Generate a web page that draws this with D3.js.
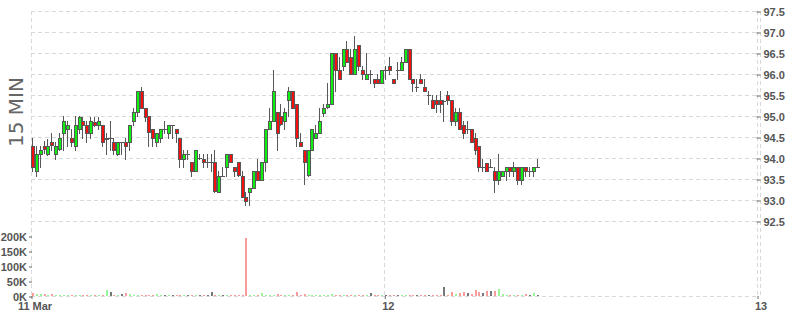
<!DOCTYPE html>
<html>
<head>
<meta charset="utf-8">
<script src="https://cdn.jsdelivr.net/npm/d3@7"></script>
<style>
    body { margin: 0; background: #fff; }
    svg { display: block; font-family: "Liberation Sans", Arial, sans-serif; }
    .grid line { stroke: #d9d9d9; stroke-dasharray: 4, 3; }
    .axis path { display: none; }
    .axis line { stroke: #666; }
    .axis text { fill: #555; font-size: 11px; font-weight: bold; }
</style>
</head>
<body>
<div id="chart-container"></div>
<script>
// 15 minute bars, first bar opens at startTime
const startTime = '2024-03-11T01:15:00'
const intervalMinutes = 15

const opens = [
    94.28, 93.69, 94.09, 94.28, 94.09, 94.37, 94.09, 94.20, 94.60, 94.69,
    94.47, 94.29, 94.69, 94.88, 94.79, 94.60, 94.86, 94.79, 94.79, 94.45,
    94.48, 94.39, 94.10, 94.39, 94.39, 94.39, 94.88, 95.09, 95.60, 95.20,
    94.99, 94.69, 94.39, 94.48, 94.69, 94.60, 94.79, 94.69, 94.48, 93.98,
    94.09, 93.90, 93.69, 94.00, 93.98, 93.90, 93.90, 93.90, 93.20, 93.58,
    93.78, 94.09, 93.79, 93.90, 93.58, 93.07, 93.18, 93.28, 93.69, 93.48,
    93.90, 94.69, 94.88, 95.09, 94.99, 94.88, 95.39, 95.60, 95.28, 94.39,
    94.18, 93.58, 94.18, 94.48, 94.60, 95.09, 95.20, 95.28, 96.50, 96.10,
    96.20, 96.60, 96.40, 96.00, 96.69, 96.10, 95.88, 96.00, 95.88, 95.88,
    95.79, 96.10, 96.20, 95.88, 96.10, 96.10, 96.29, 96.60, 95.88, 95.69,
    95.88, 95.69, 95.50, 95.39, 95.39, 95.39, 95.35, 95.50, 95.39, 94.88,
    95.09, 94.79, 94.69, 94.69, 94.48, 94.28, 93.79, 93.88, 93.79, 93.69,
    93.48, 93.58, 93.69, 93.79, 93.69, 93.79, 93.48, 93.79, 93.69, 93.69,
    93.79
]
const highs = [
    94.47, 94.29, 94.29, 94.41, 94.45, 94.60, 94.39, 94.60, 94.99, 94.88,
    94.69, 94.99, 94.99, 94.98, 94.88, 94.98, 94.98, 94.98, 94.79, 94.60,
    94.88, 94.48, 94.39, 94.39, 94.48, 94.79, 95.18, 95.60, 95.69, 95.20,
    94.99, 94.69, 94.60, 94.69, 94.88, 94.79, 94.79, 94.69, 94.48, 94.18,
    94.18, 93.90, 94.18, 94.09, 94.09, 94.09, 94.09, 94.18, 93.69, 93.79,
    94.09, 94.09, 93.79, 93.90, 93.69, 93.18, 93.28, 93.69, 93.98, 93.90,
    94.69, 95.20, 96.10, 95.09, 95.28, 95.20, 95.69, 95.60, 95.28, 94.60,
    94.18, 94.20, 94.69, 94.79, 95.20, 95.28, 95.79, 96.50, 96.50, 96.40,
    96.60, 96.79, 96.60, 96.91, 96.69, 96.20, 96.50, 96.10, 95.88, 96.00,
    96.10, 96.20, 96.40, 95.88, 96.29, 96.40, 96.60, 96.60, 95.88, 95.88,
    96.00, 95.88, 95.60, 95.50, 95.50, 95.60, 95.39, 95.60, 95.39, 95.20,
    95.20, 94.88, 94.88, 94.69, 94.60, 94.28, 93.98, 93.88, 93.98, 93.79,
    94.09, 93.69, 93.79, 93.79, 93.90, 93.79, 93.79, 93.79, 93.79, 93.79,
    93.98
]
const lows = [
    93.69, 93.56, 93.78, 94.13, 94.06, 94.20, 93.98, 94.20, 94.20, 94.29,
    94.29, 94.20, 94.60, 94.48, 94.37, 94.48, 94.77, 94.69, 94.29, 94.10,
    94.20, 94.10, 94.08, 94.10, 93.98, 94.20, 94.79, 95.01, 95.20, 94.88,
    94.29, 94.29, 94.29, 94.39, 94.60, 94.48, 94.48, 94.39, 93.79, 93.79,
    93.98, 93.56, 93.69, 93.98, 93.79, 93.79, 93.69, 93.20, 93.20, 93.58,
    93.58, 93.90, 93.58, 93.58, 93.07, 92.88, 92.88, 93.28, 93.48, 93.48,
    93.69, 94.69, 94.88, 94.20, 94.79, 94.69, 94.99, 95.20, 94.29, 94.29,
    93.39, 93.58, 94.18, 94.48, 94.60, 94.99, 95.20, 95.28, 95.60, 95.88,
    96.10, 96.29, 96.00, 96.00, 96.10, 95.88, 95.88, 95.79, 95.69, 95.79,
    95.79, 95.88, 96.00, 95.79, 95.88, 96.10, 96.29, 95.88, 95.60, 95.60,
    95.79, 95.60, 95.28, 95.20, 95.09, 95.09, 94.88, 95.29, 94.79, 94.79,
    94.69, 94.48, 94.60, 94.39, 94.09, 93.69, 93.69, 93.69, 93.79, 93.20,
    93.39, 93.58, 93.48, 93.58, 93.58, 93.39, 93.39, 93.58, 93.58, 93.58,
    93.79
]
const closes = [
    93.79, 94.09, 94.18, 94.20, 94.28, 94.29, 94.29, 94.47, 94.88, 94.79,
    94.37, 94.79, 94.98, 94.79, 94.60, 94.88, 94.79, 94.88, 94.39, 94.48,
    94.48, 94.20, 94.39, 94.39, 94.29, 94.79, 95.09, 95.60, 95.20, 94.99,
    94.60, 94.48, 94.60, 94.69, 94.69, 94.79, 94.79, 94.60, 93.98, 94.09,
    94.09, 93.69, 94.18, 94.00, 93.90, 93.90, 93.90, 93.20, 93.58, 93.58,
    94.09, 93.90, 93.69, 93.58, 93.07, 92.98, 93.28, 93.69, 93.48, 93.90,
    94.69, 94.88, 95.60, 94.60, 94.79, 95.09, 95.60, 95.20, 94.48, 94.29,
    93.90, 94.18, 94.69, 94.60, 94.88, 95.20, 95.28, 96.50, 96.10, 95.88,
    96.60, 96.29, 96.00, 96.60, 96.20, 96.00, 96.00, 96.00, 95.79, 95.79,
    96.10, 96.10, 96.10, 95.79, 96.10, 96.29, 96.60, 95.88, 95.79, 95.69,
    95.79, 95.60, 95.50, 95.20, 95.29, 95.29, 95.35, 95.39, 94.88, 95.09,
    94.69, 94.60, 94.69, 94.39, 94.20, 93.79, 93.79, 93.69, 93.79, 93.48,
    93.69, 93.69, 93.79, 93.69, 93.79, 93.48, 93.79, 93.69, 93.69, 93.79,
    93.79
]
// volume in thousands
const volumes = [
    11, 6, 5, 5, 4, 5, 3, 2, 2, 3,
    2, 3, 2, 3, 2, 3, 3, 2, 4, 20,
    13, 4, 4, 5, 11, 7, 4, 3, 3, 4,
    3, 4, 6, 3, 4, 3, 2, 3, 4, 3,
    3, 3, 4, 2, 3, 3, 13, 4, 3, 3,
    2, 3, 3, 4, 3, 193, 3, 3, 3, 10,
    4, 3, 4, 5, 3, 4, 3, 4, 13, 4,
    5, 3, 4, 2, 4, 3, 4, 5, 3, 4,
    3, 4, 3, 3, 4, 3, 3, 10, 3, 2,
    3, 4, 3, 3, 2, 3, 4, 3, 3, 2,
    3, 2, 3, 2, 3, 4, 30, 2, 13, 7,
    10, 13, 10, 7, 20, 13, 10, 17, 17, 17,
    23, 7, 3, 2, 2, 2, 3, 5, 2, 10,
    3
]

const xTickDates = ['2024-03-11T01:15:00', '2024-03-12T00:00:00', '2024-03-13T00:00:00']
const xTickLabels = ['11 Mar', '12', '13']
const priceTicks = [92.5, 93.0, 93.5, 94.0, 94.5, 95.0, 95.5, 96.0, 96.5, 97.0, 97.5]
const volumeTicks = [0, 50, 100, 150, 200]
const intervalLabel = '15 MIN'

class CandlePlotter {
    constructor(options) {
        this.width = options.width
        this.height = options.height
        this.left = 31
        this.right = 757
        this.priceTop = 11
        this.priceBottom = 221
        this.volTop = 236
        this.volBottom = 296

        const t0 = new Date(startTime)
        const step = intervalMinutes * 60000
        this.bars = opens.map((o, i) => ({
            time: new Date(t0.getTime() + i * step + step / 2),
            open: o, high: highs[i], low: lows[i], close: closes[i], volume: volumes[i]
        }))

        this.xScale = d3.scaleTime()
            .domain([new Date(xTickDates[0]), new Date(xTickDates[2])])
            .range([this.left, this.right])
        this.yScale = d3.scaleLinear()
            .domain([92.5, 97.5])
            .range([this.priceBottom, this.priceTop])
        this.vScale = d3.scaleLinear()
            .domain([0, 200])
            .range([this.volBottom, this.volTop])

        this.svg = d3.select('#chart-container')
            .append('svg')
            .attr('width', this.width)
            .attr('height', this.height)
    }

    plot() {
        this.#createGrid()
        this.#createAxes()
        this.#plotVolume()
        this.#plotCandles()
        this.#createLabel()
    }

    #px(v) {
        return Math.round(v) + 0.5
    }

    #createGrid() {
        const grid = this.svg.append('g').attr('class', 'grid')
        grid.selectAll('.hline')
            .data(priceTicks)
            .enter()
            .append('line')
            .attr('x1', this.left)
            .attr('x2', this.right)
            .attr('y1', d => this.#px(this.yScale(d)))
            .attr('y2', d => this.#px(this.yScale(d)))
        grid.append('line')
            .attr('x1', this.left)
            .attr('x2', this.right)
            .attr('y1', this.#px(this.volBottom))
            .attr('y2', this.#px(this.volBottom))
        grid.selectAll('.vline')
            .data(xTickDates)
            .enter()
            .append('line')
            .attr('x1', d => this.#px(this.xScale(new Date(d))))
            .attr('x2', d => this.#px(this.xScale(new Date(d))))
            .attr('y1', this.priceTop)
            .attr('y2', this.volBottom)
        grid.append('line')
            .attr('x1', this.right + 3.5)
            .attr('x2', this.right + 3.5)
            .attr('y1', this.priceTop)
            .attr('y2', this.volBottom)
    }

    #createAxes() {
        const priceAxis = d3.axisRight(this.yScale)
            .tickValues(priceTicks)
            .tickFormat(d3.format('.1f'))
            .tickSize(4)
            .tickPadding(3)
        this.svg.append('g')
            .attr('class', 'axis')
            .attr('transform', 'translate(' + (this.right - 0.5) + ',0.5)')
            .call(priceAxis)

        const volumeAxis = d3.axisLeft(this.vScale)
            .tickValues(volumeTicks)
            .tickFormat(d => d + 'K')
            .tickSize(3)
            .tickPadding(2)
        this.svg.append('g')
            .attr('class', 'axis')
            .attr('transform', 'translate(32,0.5)')
            .call(volumeAxis)

        const timeAxis = d3.axisBottom(this.xScale)
            .tickValues(xTickDates.map(d => new Date(d)))
            .tickFormat((d, i) => xTickLabels[i])
            .tickSize(3)
            .tickPadding(3)
        const g = this.svg.append('g')
            .attr('class', 'axis')
            .attr('transform', 'translate(0.5,' + this.volBottom + ')')
            .call(timeAxis)
        g.selectAll('text').attr('dx', 3)
    }

    #plotVolume() {
        const colour = d => d.close > d.open ? '#99f599' : (d.close < d.open ? '#fa9c9c' : '#777')
        this.svg.append('g')
            .selectAll('rect')
            .data(this.bars)
            .enter()
            .append('rect')
            .attr('x', d => Math.round(this.xScale(d.time)) - 1)
            .attr('width', 2)
            .attr('y', d => Math.round(this.vScale(d.volume)))
            .attr('height', d => this.volBottom - Math.round(this.vScale(d.volume)))
            .attr('fill', colour)
    }

    #plotCandles() {
        const g = this.svg.append('g')
        const bars = g.selectAll('.candle')
            .data(this.bars)
            .enter()
            .append('g')
            .attr('class', 'candle')

        bars.append('line')
            .attr('x1', d => Math.round(this.xScale(d.time)) - 0.5)
            .attr('x2', d => Math.round(this.xScale(d.time)) - 0.5)
            .attr('y1', d => Math.round(this.yScale(d.high)))
            .attr('y2', d => Math.round(this.yScale(d.low)) + 1)
            .attr('stroke', '#585858')
            .attr('stroke-width', 1)

        bars.filter(d => d.open !== d.close)
            .append('rect')
            .attr('x', d => Math.round(this.xScale(d.time)) - 1.5)
            .attr('width', 3)
            .attr('y', d => this.#px(this.yScale(Math.max(d.open, d.close))))
            .attr('height', d => Math.max(1, Math.round(this.yScale(Math.min(d.open, d.close)) - this.yScale(Math.max(d.open, d.close)))))
            .attr('fill', d => d.close > d.open ? '#10f010' : '#f50f0f')
            .attr('stroke', '#585858')
            .attr('stroke-width', 1)

        bars.filter(d => d.open === d.close)
            .append('line')
            .attr('x1', d => Math.round(this.xScale(d.time)) - 2)
            .attr('x2', d => Math.round(this.xScale(d.time)) + 2)
            .attr('y1', d => this.#px(this.yScale(d.open)))
            .attr('y2', d => this.#px(this.yScale(d.open)))
            .attr('stroke', '#585858')
            .attr('stroke-width', 1)
    }

    #createLabel() {
        this.svg.append('text')
            .attr('transform', 'translate(23,112) rotate(-90)')
            .attr('text-anchor', 'middle')
            .attr('fill', '#666')
            .style('font-family', '"DejaVu Sans", sans-serif')
            .style('font-size', '20px')
            .text(intervalLabel)
    }
}

new CandlePlotter({ width: 800, height: 315 }).plot()
</script>
</body>
</html>
